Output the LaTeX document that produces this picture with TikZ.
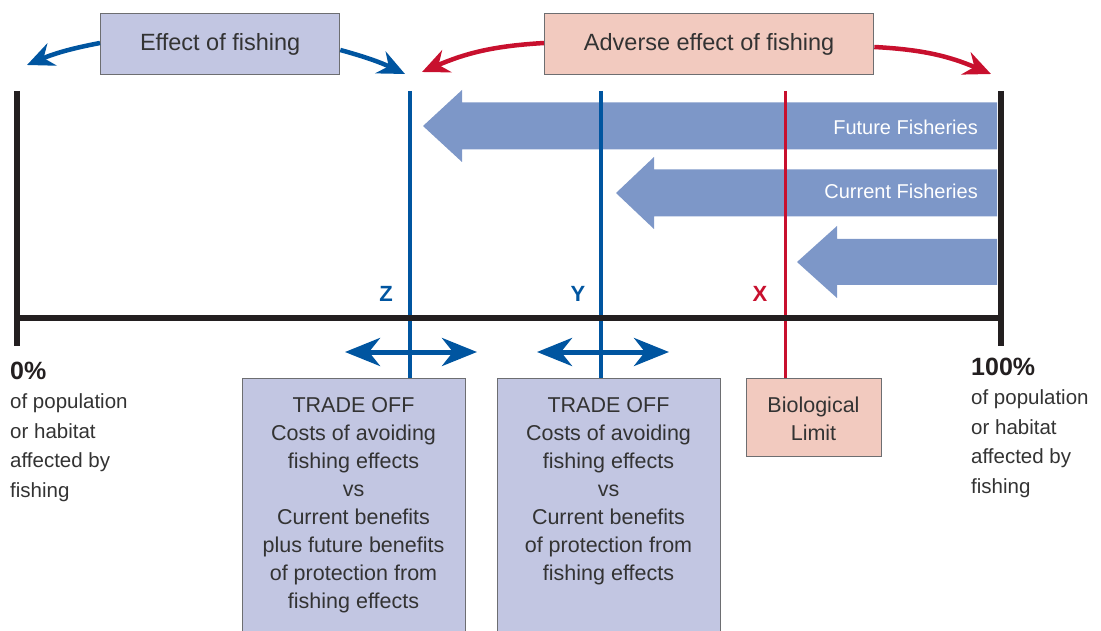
\documentclass[tikz,border=0pt]{standalone}
\usepackage{fontspec}
\setmainfont{Liberation Sans}
\usetikzlibrary{arrows.meta}
\definecolor{fblue}{HTML}{0055A0}
\definecolor{fred}{HTML}{C8102E}
\definecolor{lav}{HTML}{C2C6E2}
\definecolor{pinkbox}{HTML}{F2CABF}
\definecolor{arrowfill}{HTML}{7D97C8}
\definecolor{ink}{HTML}{231F20}
\definecolor{boxline}{HTML}{6D6E71}
\definecolor{txt}{HTML}{333333}
\begin{document}
\begin{tikzpicture}[x=1pt,y=-1pt,
  box/.style={draw=boxline,line width=1.3pt,inner sep=0pt,anchor=north west,text=txt},
  boxtext/.style={inner sep=0pt,anchor=north,align=center,text=txt,font=\fontsize{21.5}{28}\selectfont},
  sidetext/.style={inner sep=0pt,anchor=north west,align=left,text=txt,font=\fontsize{20.5}{29.5}\selectfont},
  pct/.style={inner sep=0pt,anchor=base west,text=ink,font=\fontsize{25}{28}\selectfont\bfseries},
  letter/.style={inner sep=0pt,font=\fontsize{22}{24}\selectfont\bfseries},
  bigarrow/.style={fill=arrowfill},
  arrtext/.style={inner sep=0pt,anchor=east,text=white,font=\fontsize{20}{24}\selectfont},
  curved/.style={line width=4.5pt,-{Stealth[length=27pt,width=24pt,inset=9pt]}},
  dbl/.style={line width=5pt,draw=fblue,{Stealth[length=35pt,width=28pt,inset=11pt]}-{Stealth[length=35pt,width=28pt,inset=11pt]}}
]
\useasboundingbox (0,0) rectangle (1101,631);

% big fill arrows
\fill[bigarrow] (997,102.5) -- (462,102.5) -- (462,90) -- (423,126) -- (462,162) -- (462,149.5) -- (997,149.5) -- cycle;
\node[arrtext] (fut) at (978,127) {Future Fisheries};
\fill[bigarrow] (997,169.5) -- (654,169.5) -- (654,157) -- (616,193) -- (654,229) -- (654,216.5) -- (997,216.5) -- cycle;
\node[arrtext] (cur) at (978,191) {Current Fisheries};
\fill[bigarrow] (997,239) -- (837,239) -- (837,226) -- (797,262) -- (837,298) -- (837,285) -- (997,285) -- cycle;

% boxes
\node[box,fill=lav,minimum width=239pt,minimum height=61pt,font=\fontsize{23.5}{28}\selectfont] (eff) at (100,13) {Effect of fishing};
\node[box,fill=pinkbox,minimum width=329pt,minimum height=61pt,font=\fontsize{23.5}{28}\selectfont] (adv) at (544,13) {Adverse effect of fishing};
\node[box,fill=lav,minimum width=223pt,minimum height=280pt] (to1) at (242,378) {};
\node[box,fill=lav,minimum width=223pt,minimum height=280pt] (to2) at (497,378) {};
\node[box,fill=pinkbox,minimum width=135pt,minimum height=78pt] (bio) at (746,378) {};
\node[boxtext] (t1) at (353.5,397) {TRADE OFF\\Costs of avoiding\\fishing effects\\vs\\Current benefits\\plus future benefits\\of protection from\\fishing effects};
\node[boxtext] (t2) at (608.5,397) {TRADE OFF\\Costs of avoiding\\fishing effects\\vs\\Current benefits\\of protection from\\fishing effects};
\node[boxtext] (t3) at (813.5,397) {Biological\\Limit};

% coordinates
\coordinate (Ltop) at (17,91);
\coordinate (Lbot) at (17,346);
\coordinate (Rtop) at (1001,91);
\coordinate (Rbot) at (1001,346);
\coordinate (axL) at (14,318);
\coordinate (axR) at (1004,318);
\coordinate (Ztop) at (410,91);
\coordinate (Ytop) at (601,91);
\coordinate (Xtop) at (785,91);

% vertical lines
\draw[line width=4pt,fblue] (Ztop) -- (Ztop |- to1.north);
\draw[line width=4pt,fblue] (Ytop) -- (Ytop |- to2.north);
\draw[line width=3pt,fred] (Xtop) -- (Xtop |- bio.north);
\draw[line width=6.5pt,ink] (Ltop) -- (Lbot);
\draw[line width=6.5pt,ink] (Rtop) -- (Rbot);
\draw[line width=6.5pt,ink] (axL) -- (axR);

% letters
\node[letter,text=fblue] (Z) at (386,294) {Z};
\node[letter,text=fblue] (Y) at (578,294) {Y};
\node[letter,text=fred] (X) at (760,294) {X};

% double arrows
\coordinate (d1a) at (345,352);
\coordinate (d1b) at (477,352);
\coordinate (d2a) at (537,352);
\coordinate (d2b) at (669,352);
\draw[dbl] (d1a) -- (d1b);
\draw[dbl] (d2a) -- (d2b);

% curved arrows
\coordinate (bl) at (27,65);
\coordinate (br) at (405,74);
\coordinate (rl) at (422,72);
\coordinate (rr) at (991,74);
\draw[curved,fblue] (eff.west |- 0,43) to[bend right=6] (bl);
\draw[curved,fblue] (eff.east |- 0,50) to[bend left=5] (br);
\draw[curved,fred] (adv.west |- 0,43) to[bend right=10] (rl);
\draw[curved,fred] (adv.east |- 0,47) to[bend left=10] (rr);

% side texts
\node[pct] (zero) at (10,379) {0\%};
\node[sidetext] (lt) at (10,393.5) {of population\\or habitat\\affected by\\fishing};
\node[pct] (hund) at (971,375) {100\%};
\node[sidetext] (rt) at (971,389.5) {of population\\or habitat\\affected by\\fishing};
\end{tikzpicture}
\end{document}
